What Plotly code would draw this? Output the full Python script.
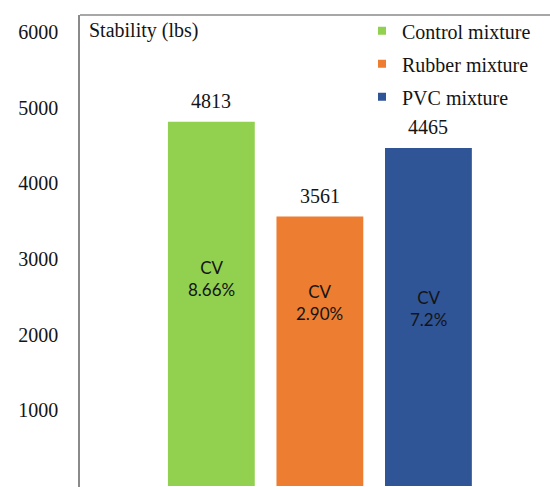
import plotly.graph_objects as go

# Marshall stability of the three asphalt mixtures
mixtures = ["Control mixture", "Rubber mixture", "PVC mixture"]
stability = [4813, 3561, 4465]
cv_labels = ["CV<br>8.66%", "CV<br>2.90%", "CV<br>7.2%"]
colors = ["#92D050", "#ED7D31", "#2F5597"]

# height (in data units) at which each CV note sits inside its bar
cv_label_y = [2740, 2430, 2350]

y_ticks = [0, 1000, 2000, 3000, 4000, 5000, 6000]

serif = "Liberation Serif"
text_color = "#141414"

fig = go.Figure()

for i, (name, val, col) in enumerate(zip(mixtures, stability, colors)):
    fig.add_trace(go.Bar(
        x=[name], y=[val], width=0.8,
        marker=dict(color=col, line=dict(width=0)),
        showlegend=False,
    ))
    # legend entry with a small square swatch
    fig.add_trace(go.Scatter(
        x=[None], y=[None], mode="markers", name=name,
        marker=dict(symbol="square", size=8, color=col),
        legendgroup=name, showlegend=True,
    ))
    fig.add_annotation(
        x=name, y=val, text=str(val), showarrow=False,
        yanchor="bottom", yshift=8,
        font=dict(family=serif, size=20, color=text_color),
    )
    fig.add_annotation(
        x=name, y=cv_label_y[i], text=cv_labels[i], showarrow=False,
        font=dict(family="Lato", size=17, color=text_color),
    )

fig.add_annotation(
    xref="paper", yref="paper", x=0.015, y=0.995,
    xanchor="left", yanchor="top", text="Stability (lbs)", showarrow=False,
    font=dict(family=serif, size=20, color=text_color),
)

# frame line across the top of the plotting area
fig.add_shape(type="line", xref="paper", yref="paper", x0=0, x1=1, y0=1, y1=1,
              line=dict(color="#8a8a8a", width=1.5))

fig.update_layout(
    width=550, height=487,
    margin=dict(l=80, r=0, t=15, b=0),
    plot_bgcolor="white", paper_bgcolor="white",
    barmode="overlay",
    xaxis=dict(
        type="category", range=[-1.21, 3.12],
        showticklabels=False, showgrid=False, zeroline=False, showline=False,
    ),
    yaxis=dict(
        range=[-13, 6224], tickvals=y_ticks, showgrid=False, zeroline=False,
        showline=True, linecolor="#8a8a8a", linewidth=1.5,
        ticks="", ticklabelstandoff=16,
        tickfont=dict(family=serif, size=20, color=text_color),
    ),
    legend=dict(
        x=0.6, y=1.008, xanchor="left", yanchor="top",
        font=dict(family=serif, size=20, color=text_color),
        tracegroupgap=4, bgcolor="rgba(0,0,0,0)",
        itemwidth=30,
    ),
    showlegend=True,
)

fig.write_html("out.html")
